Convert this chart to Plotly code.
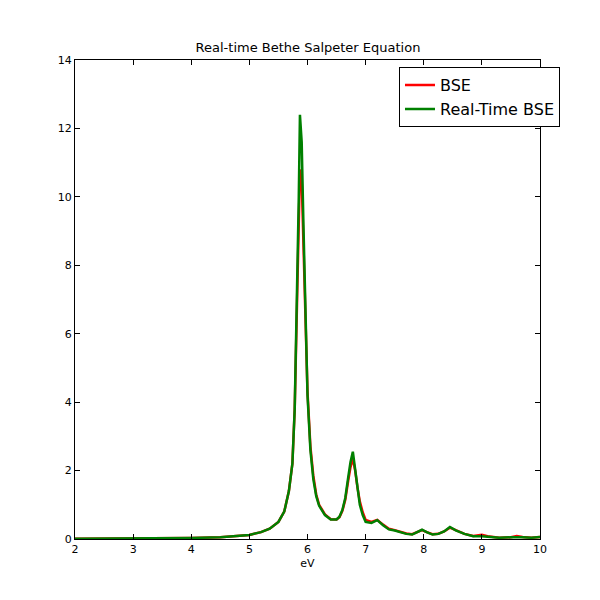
import plotly.graph_objects as go

energy = [2, 2.5, 3, 3.5, 4, 4.5, 4.8, 5.0, 5.2, 5.35, 5.5, 5.6, 5.68, 5.74, 5.78, 5.82, 5.85, 5.87,
          5.9, 5.93, 5.96, 6.0, 6.05, 6.1, 6.15, 6.2, 6.3, 6.4, 6.5, 6.55, 6.6, 6.65, 6.7, 6.74, 6.78,
          6.82, 6.86, 6.9, 6.95, 7.0, 7.1, 7.2, 7.3, 7.4, 7.5, 7.6, 7.7, 7.8, 7.9, 7.97, 8.05, 8.15,
          8.25, 8.35, 8.45, 8.55, 8.7, 8.85, 9.0, 9.1, 9.3, 9.5, 9.6, 9.7, 9.85, 10]
rt_bse = [0.01, 0.01, 0.02, 0.02, 0.03, 0.05, 0.08, 0.12, 0.2, 0.3, 0.5, 0.8, 1.4, 2.2, 3.8, 7.0, 10.0, 12.4,
          11.6, 9.2, 6.6, 4.2, 2.6, 1.75, 1.25, 0.97, 0.7, 0.57, 0.57, 0.65, 0.85, 1.2, 1.8, 2.25, 2.55,
          2.0, 1.4, 1.0, 0.7, 0.5, 0.47, 0.55, 0.4, 0.28, 0.25, 0.2, 0.15, 0.13, 0.2, 0.27, 0.2, 0.13,
          0.15, 0.22, 0.35, 0.25, 0.15, 0.08, 0.08, 0.06, 0.04, 0.05, 0.06, 0.05, 0.04, 0.06]
bse = [0.01, 0.01, 0.02, 0.02, 0.03, 0.05, 0.08, 0.12, 0.2, 0.3, 0.5, 0.8, 1.4, 2.2, 3.8, 6.9, 9.5, 10.8,
       10.5, 8.8, 6.5, 4.3, 2.7, 1.85, 1.3, 1.0, 0.72, 0.58, 0.57, 0.64, 0.82, 1.15, 1.7, 2.1, 2.35,
       2.0, 1.5, 1.1, 0.78, 0.56, 0.5, 0.56, 0.42, 0.3, 0.26, 0.21, 0.16, 0.14, 0.2, 0.26, 0.2, 0.14,
       0.15, 0.22, 0.33, 0.25, 0.15, 0.09, 0.12, 0.08, 0.04, 0.05, 0.09, 0.06, 0.04, 0.06]

fig = go.Figure()
fig.add_trace(go.Scatter(x=energy, y=bse, mode='lines', name='BSE',
                         line=dict(color='red', width=2.5)))
fig.add_trace(go.Scatter(x=energy, y=rt_bse, mode='lines', name='Real-Time BSE',
                         line=dict(color='green', width=2.5)))

axis = dict(showgrid=False, zeroline=False, showline=True, linecolor='black', linewidth=1,
            mirror='ticks', ticks='inside', ticklen=5, tickcolor='black', automargin=False,
            tickfont=dict(size=11, color='black'))
fig.update_layout(
    width=600, height=600, template='none',
    paper_bgcolor='white', plot_bgcolor='white',
    font=dict(family='DejaVu Sans', color='black'),
    margin=dict(l=67, r=68, t=52, b=69),
    title=dict(text='Real-time Bethe Salpeter Equation', x=0.5, xanchor='center',
               y=1 - 44 / 600, yanchor='bottom', font=dict(size=13)),
    xaxis=dict(axis, range=[2, 10], dtick=1,
               title=dict(text='eV', font=dict(size=11), standoff=4)),
    yaxis=dict(axis, range=[0, 14], dtick=2),
    legend=dict(x=1.043, y=0.985, xanchor='right', yanchor='top', bgcolor='white',
                bordercolor='black', borderwidth=1, font=dict(size=16)),
    showlegend=True,
)
fig.write_html("out.html")
